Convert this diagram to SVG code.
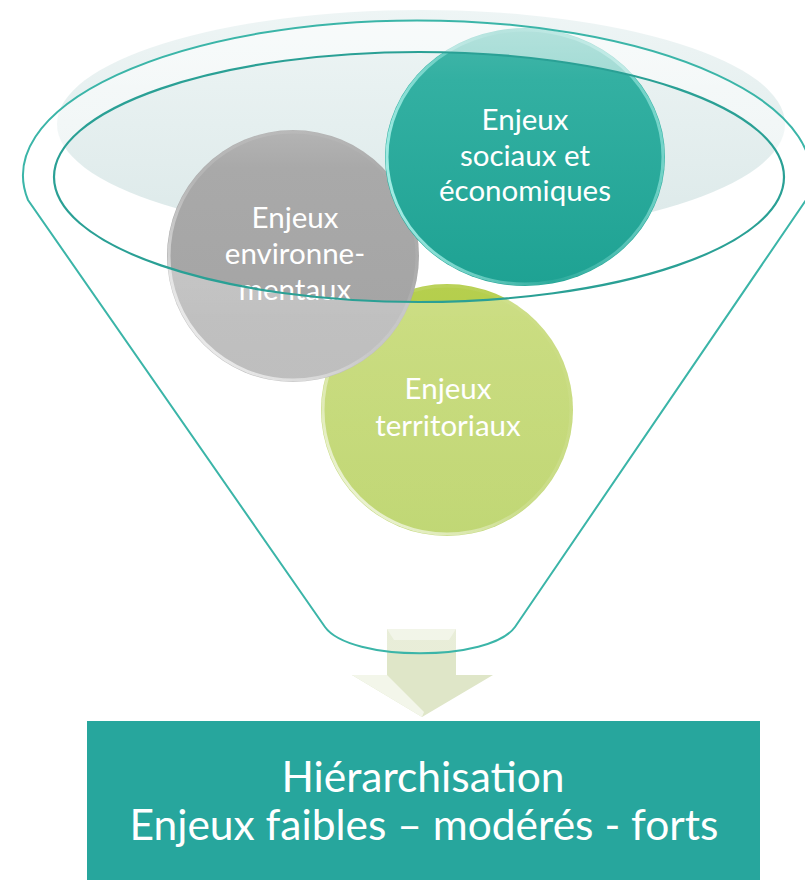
<svg xmlns="http://www.w3.org/2000/svg" width="805" height="880" viewBox="0 0 805 880">
  <defs>
    <linearGradient id="shade" x1="0" y1="0" x2="0" y2="1">
      <stop offset="0" stop-color="#eef5f5"/>
      <stop offset="1" stop-color="#dce9e9"/>
    </linearGradient>
    <linearGradient id="gGray" x1="0" y1="0" x2="0" y2="1">
      <stop offset="0" stop-color="#b4b4b4"/>
      <stop offset="0.15" stop-color="#a9a9a9"/>
      <stop offset="1" stop-color="#a3a3a3"/>
    </linearGradient>
    <linearGradient id="gTeal" x1="0" y1="0" x2="0" y2="1">
      <stop offset="0" stop-color="#45b7aa"/>
      <stop offset="0.2" stop-color="#33b0a2"/>
      <stop offset="1" stop-color="#1ea293"/>
    </linearGradient>
    <linearGradient id="gGreen" x1="0" y1="0" x2="0" y2="1">
      <stop offset="0" stop-color="#b6cf4e"/>
      <stop offset="1" stop-color="#a6c63a"/>
    </linearGradient>
    <linearGradient id="rim" x1="0" y1="1" x2="1" y2="0">
      <stop offset="0" stop-color="#ffffff" stop-opacity="0.9"/>
      <stop offset="0.45" stop-color="#ffffff" stop-opacity="0.15"/>
      <stop offset="1" stop-color="#ffffff" stop-opacity="0"/>
    </linearGradient>
    <linearGradient id="rimTeal" x1="0" y1="0.6" x2="1" y2="0.4">
      <stop offset="0" stop-color="#a8f0e8" stop-opacity="0.95"/>
      <stop offset="0.5" stop-color="#a8f0e8" stop-opacity="0.1"/>
      <stop offset="1" stop-color="#a8f0e8" stop-opacity="0.6"/>
    </linearGradient>
    <linearGradient id="overlay" gradientUnits="userSpaceOnUse" x1="0" y1="20" x2="0" y2="320">
      <stop offset="0" stop-color="#ffffff" stop-opacity="0.6"/>
      <stop offset="1" stop-color="#ffffff" stop-opacity="0.3"/>
    </linearGradient>
    <style>
      .lbl { font-family: Lato, "Open Sans", "Liberation Sans", sans-serif; font-size: 29.5px; fill: #ffffff; text-anchor: middle; }
      .box { font-family: Lato, "Open Sans", "Liberation Sans", sans-serif; font-size: 42.5px; font-weight: 400; fill: #ffffff; text-anchor: middle; }
    </style>
  </defs>

  <rect width="805" height="880" fill="#ffffff"/>

  <!-- shaded top ellipse -->
  <ellipse cx="421" cy="124" rx="364" ry="114" fill="url(#shade)"/>

  <g id="connectors">
    <path d="M387,629 H456 V675 H493 L422,717 L352,675 H387 Z" fill="#dfe6c8"/>
    <path d="M387,629 H456 L449,640 H394 Z" fill="#edf1df"/>
    <path d="M352,675 H387 L393,681 L424,712 L422,717 Z" fill="#f3f6ea"/>
  </g>

  <g id="node-territoriaux">
    <circle cx="447" cy="410" r="126" fill="url(#gGreen)"/>
    <circle cx="447" cy="410" r="124" fill="none" stroke="url(#rim)" stroke-width="3"/>
    <text class="lbl" x="448" y="399">Enjeux</text>
    <text class="lbl" x="448" y="436">territoriaux</text>
  </g>

  <g id="node-environnementaux">
    <circle cx="293" cy="256" r="126" fill="url(#gGray)"/>
    <circle cx="293" cy="256" r="124" fill="none" stroke="url(#rim)" stroke-width="3"/>
    <text class="lbl" x="295" y="228">Enjeux</text>
    <text class="lbl" x="295" y="264">environne-</text>
    <text class="lbl" x="295" y="300">mentaux</text>
  </g>

  <g id="node-sociaux">
    <ellipse cx="525" cy="157" rx="140" ry="129" fill="url(#gTeal)"/>
    <ellipse cx="525" cy="157" rx="138" ry="127" fill="none" stroke="url(#rimTeal)" stroke-width="3"/>
    <text class="lbl" x="525" y="130">Enjeux</text>
    <text class="lbl" x="525" y="166">sociaux et</text>
    <text class="lbl" x="525" y="201">économiques</text>
  </g>

  <g id="funnel">
    <path d="M28,200 A394,155 0 1 1 806,200 L515,627 C490,662 350,662 325,627 Z M54,177 A365,125 0 1 0 784,177 A365,125 0 1 0 54,177 Z" fill="url(#overlay)" fill-rule="evenodd"/>
    <path d="M28,200 A394,155 0 1 1 806,200 L515,627 C490,662 350,662 325,627 Z" fill="none" stroke="#3bb5a8" stroke-width="2"/>
    <ellipse cx="419" cy="177" rx="365" ry="125" fill="none" stroke="#2aa095" stroke-width="2.2"/>
  </g>

  <g id="node-hierarchisation">
    <rect x="87" y="721" width="673" height="159" fill="#27a69d"/>
    <text class="box" x="423" y="792">Hiérarchisation</text>
    <text class="box" x="424" y="840">Enjeux faibles – modérés - forts</text>
  </g>
</svg>
